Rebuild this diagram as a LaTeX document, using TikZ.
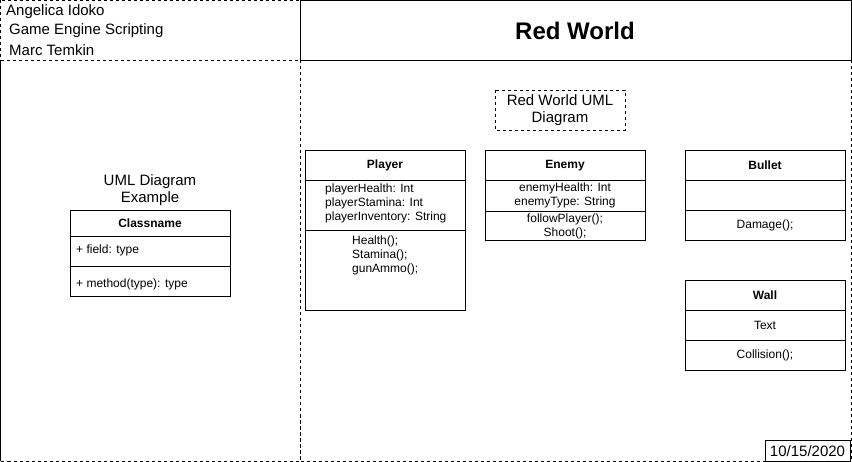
\documentclass[tikz,border=0pt]{standalone}
\usepackage{fontspec}
\setmainfont{Liberation Sans}
\usetikzlibrary{positioning}

\newcommand{\BoxWidth}{160}
\newcommand{\RowHeight}{30}

\tikzset{
  dashedframe/.style={draw, line width=0.9pt, dash pattern=on 3pt off 3pt},
  solidframe/.style={draw, line width=0.9pt},
  umlline/.style={draw, line width=0.9pt},
  smalltext/.style={inner sep=0pt, font=\fontsize{12}{14}\selectfont},
  headtext/.style={inner sep=0pt, font=\fontsize{12}{14}\selectfont\bfseries},
  bigtext/.style={inner sep=0pt, font=\fontsize{15}{17}\selectfont},
}

\begin{document}
\begin{tikzpicture}[x=1pt,y=-1pt]
\useasboundingbox (0,0) rectangle (852,462);

% Frames
\draw[dashedframe] (0.5,0.5) rectangle (300,60);% Names
\draw[solidframe] (300,0.5) rectangle (851,60);% Title
\draw[dashedframe] (0.5,60) rectangle (300,461);% Left panel
\draw[dashedframe] (300,60) rectangle (851,461);% Right panel
\draw[solidframe] (0.5,60) -- (0.5,461);

\node[bigtext, anchor=west] (author) at (6,12) {Angelica Idoko};
\node[bigtext, anchor=west] (course) at (9,31) {Game Engine Scripting};
\node[bigtext, anchor=west] (teacher) at (9,50) {Marc Temkin};
\node[inner sep=0pt, font=\fontsize{24}{28}\selectfont\bfseries] (title) at (575,31) {Red World};

% Date
\draw[solidframe] (765,440) rectangle (850,461);
\node[bigtext] (date) at (807.5,451) {10/15/2020};

% Example class
\node[bigtext, align=center] (example) at (150,190.5) {UML Diagram\\Example};
\coordinate (X) at (70,210);
\draw[umlline] (X) rectangle ++(\BoxWidth,86);
\draw[umlline] (70,236) -- ++(\BoxWidth,0);
\draw[umlline] (70,266) -- ++(\BoxWidth,0);
\node[headtext] (classname) at (150,223.5) {Classname};
\node[smalltext, anchor=west] (field) at (76,250) {+ field: type};
\node[smalltext, anchor=west] (method) at (76,284) {+ method(type): type};

% Diagram label
\draw[dashedframe] (495,90) rectangle (625,130);
\node[bigtext, align=center] (diagram) at (560,110.5) {Red World UML\\Diagram};

% Player
\coordinate (P) at (305,150);
\draw[umlline] (P) rectangle ++(\BoxWidth,160);
\draw[umlline] (305,180) -- ++(\BoxWidth,0);
\draw[umlline] (305,230) -- ++(\BoxWidth,0);
\node[headtext] (player) at (385,165.5) {Player};
\node[smalltext, anchor=north west, align=left] (playerAttr) at (325,184)
  {playerHealth: Int\\playerStamina: Int\\playerInventory: String};
\node[smalltext, anchor=north west, align=left] (playerOps) at (352,236)
  {Health();\\Stamina();\\gunAmmo();};

% Enemy
\coordinate (E) at (485,150);
\draw[umlline] (E) rectangle ++(\BoxWidth,90);
\draw[umlline] (485,180) -- ++(\BoxWidth,0);
\draw[umlline] (485,211) -- ++(\BoxWidth,0);
\node[headtext] (enemy) at (565,165.5) {Enemy};
\node[smalltext, align=center] (enemyAttr) at (565,195.5)
  {enemyHealth: Int\\enemyType: String};
\node[smalltext, align=center] (enemyOps) at (565,226)
  {followPlayer();\\Shoot();};

% Bullet
\coordinate (B) at (685,150);
\draw[umlline] (B) rectangle ++(\BoxWidth,3*\RowHeight);
\draw[umlline] (685,180) -- ++(\BoxWidth,0);
\draw[umlline] (685,210) -- ++(\BoxWidth,0);
\node[headtext] (bullet) at (765,165.5) {Bullet};
\node[smalltext] (damage) at (765,225.5) {Damage();};

% Wall
\coordinate (W) at (685,280);
\draw[umlline] (W) rectangle ++(\BoxWidth,3*\RowHeight);
\draw[umlline] (685,310) -- ++(\BoxWidth,0);
\draw[umlline] (685,340) -- ++(\BoxWidth,0);
\node[headtext] (wall) at (765,295.5) {Wall};
\node[smalltext] (wallText) at (765,325.5) {Text};
\node[smalltext] (collision) at (765,355.5) {Collision();};
\end{tikzpicture}
\end{document}
